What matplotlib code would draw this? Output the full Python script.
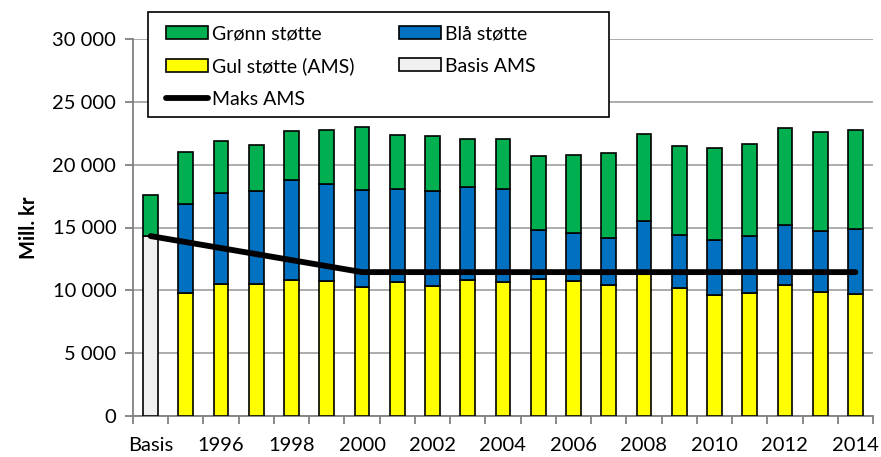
import matplotlib.pyplot as plt
import numpy as np
from matplotlib.patches import Rectangle
from matplotlib.ticker import FuncFormatter, FixedLocator

plt.rcParams['font.family'] = ['Lato', 'DejaVu Sans']

categories = ['Basis'] + [str(y) for y in range(1995, 2015)]

# Mill. kr per category (Basis first, then 1995-2014)
basis_ams = [14317] + [0] * 20
gul = [0, 9760, 10500, 10500, 10820, 10740, 10290, 10660, 10340, 10800, 10640,
       10900, 10740, 10420, 11400, 10190, 9630, 9810, 10420, 9840, 9730]
blaa = [0, 7140, 7270, 7400, 7930, 7690, 7670, 7380, 7590, 7400, 7450,
        3930, 3800, 3740, 4120, 4190, 4400, 4510, 4780, 4880, 5120]
groenn = [3250, 4130, 4140, 3690, 3900, 4300, 5010, 4320, 4350, 3870, 3980,
          5860, 6200, 6740, 6920, 7080, 7270, 7350, 7720, 7880, 7910]
maks_ams = [14317, 13839, 13361, 12883, 12405, 11927] + [11449] * 15

GREEN = '#00B050'
BLUE = '#0070C0'
YELLOW = '#FFFF00'
GREY = '#F0F0F0'

fig = plt.figure(figsize=(8.81, 4.57), dpi=100)
ax = fig.add_axes([133 / 881, 1 - 416 / 457, 740 / 881, 377 / 457])

x = np.arange(len(categories))
w = 0.42
bar_kw = dict(width=w, edgecolor='black', linewidth=1.2, zorder=3)

b_basis = ax.bar(x, basis_ams, color=GREY, **bar_kw)
b_gul = ax.bar(x[1:], gul[1:], color=YELLOW, **bar_kw)
b_blaa = ax.bar(x[1:], blaa[1:], bottom=gul[1:], color=BLUE, **bar_kw)
bottom_g = np.array(basis_ams) + np.array(gul) + np.array(blaa)
b_groenn = ax.bar(x, groenn, bottom=bottom_g, color=GREEN, **bar_kw)
line, = ax.plot(x, maks_ams, color='black', linewidth=4.2,
                solid_capstyle='round', zorder=4)

ax.set_xlim(-0.5, len(categories) - 0.5)
ax.set_ylim(0, 30000)
ax.set_yticks(np.arange(0, 30001, 5000))
ax.yaxis.set_major_formatter(FuncFormatter(lambda v, p: f"{int(v):,}".replace(',', ' ')))
ax.yaxis.grid(True, color='#A6A6A6', linewidth=1.3, zorder=0)
ax.set_axisbelow(True)

ax.xaxis.set_major_locator(FixedLocator(x[::2]))
ax.set_xticklabels(categories[::2])
ax.xaxis.set_minor_locator(FixedLocator(np.arange(-0.5, len(categories), 1)))
ax.tick_params(axis='x', which='major', length=0, labelsize=14.5, pad=15)
ax.tick_params(axis='x', which='minor', length=6, width=1.3, color='#808080')
ax.tick_params(axis='y', length=6, width=1.3, color='#808080', labelsize=14.5, pad=6)

for s in ['top', 'right']:
    ax.spines[s].set_visible(False)
for s in ['left', 'bottom']:
    ax.spines[s].set_color('#808080')
    ax.spines[s].set_linewidth(1.3)

ax.set_ylabel('Mill. kr', fontsize=14.5, fontweight='bold', labelpad=10)

# legend box
frame = Rectangle((148 / 881, 1 - 117 / 457), 461 / 881, 105 / 457,
                  transform=fig.transFigure, facecolor='white',
                  edgecolor='black', linewidth=1.2, zorder=5)
fig.patches.append(frame)
leg = fig.legend([b_groenn, b_gul, line, b_blaa, b_basis],
                 ['Grønn støtte', 'Gul støtte (AMS)', 'Maks AMS', 'Blå støtte', 'Basis AMS'],
                 ncol=2, loc='upper left', bbox_to_anchor=(166 / 881, 1 - 25 / 457),
                 frameon=False, fontsize=14, borderpad=0, borderaxespad=0,
                 handlelength=2.15, handleheight=0.67, handletextpad=0.2,
                 labelspacing=0.8, columnspacing=2.3)
leg.set_zorder(6)

fig.savefig('out.png', dpi=100)
